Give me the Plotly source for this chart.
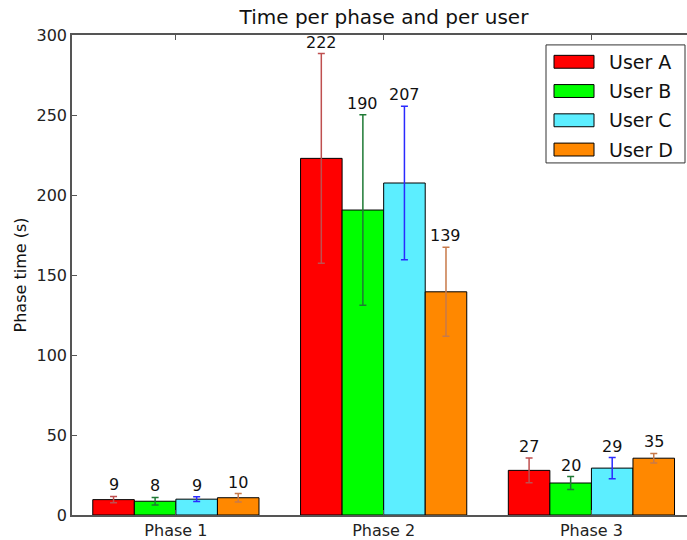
import plotly.graph_objects as go

phases = ["Phase 1", "Phase 2", "Phase 3"]
users = ["User A", "User B", "User C", "User D"]
values = {
    "User A": [9.6, 222.9, 27.9],
    "User B": [8.6, 190.6, 20.0],
    "User C": [9.9, 207.5, 29.3],
    "User D": [10.8, 139.5, 35.5],
}
errors = {
    "User A": [2.0, 65.5, 7.7],
    "User B": [2.4, 59.5, 4.0],
    "User C": [1.5, 48.0, 6.6],
    "User D": [2.6, 27.8, 3.0],
}
bar_colors = {"User A": "#ff0000", "User B": "#00ff00", "User C": "#5ceeff", "User D": "#ff8800"}
err_colors = {"User A": "#bf4f4f", "User B": "#1f7a35", "User C": "#2a2aff", "User D": "#c87a4a"}

FONT = "DejaVu Sans"
W, H = 687, 540
L, R, T, B = 72, 0, 35, 21
PW, PH = W - L - R, H - T - B


def px_x(px):
    return (px - L) / PW


def px_y(py):
    return (H - B - py) / PH


fig = go.Figure()
n = len(users)
for i, u in enumerate(users):
    fig.add_trace(go.Bar(
        x=list(range(len(phases))), y=values[u], name=u,
        marker=dict(color=bar_colors[u], line=dict(color="black", width=1)),
        error_y=dict(type="data", array=errors[u], color=err_colors[u], thickness=1.5, width=3.5),
        offsetgroup=str(i), showlegend=False,
    ))
    for j, v in enumerate(values[u]):
        xoff = (i - (n - 1) / 2) * 0.2
        fig.add_annotation(
            x=j + xoff, y=v + errors[u][j], text=str(int(v)),
            showarrow=False, yanchor="bottom", xanchor="center", yshift=0,
            font=dict(family=FONT, size=16, color="#111"),
        )

# custom legend (wide rectangular swatches like the reference)
shapes = [dict(type="rect", xref="paper", yref="paper",
               x0=px_x(546), x1=px_x(685), y0=px_y(45), y1=px_y(164),
               line=dict(color="#333", width=1), fillcolor="white", layer="above")]
for k, u in enumerate(users):
    cy = 62 + k * 29.5
    shapes.append(dict(type="rect", xref="paper", yref="paper",
                       x0=px_x(554), x1=px_x(594), y0=px_y(cy + 6.5), y1=px_y(cy - 6.5),
                       line=dict(color="black", width=1), fillcolor=bar_colors[u], layer="above"))
    fig.add_annotation(xref="paper", yref="paper", x=px_x(607), y=px_y(cy), text=u,
                       showarrow=False, xanchor="left", yanchor="middle",
                       font=dict(family=FONT, size=19, color="#111"))

fig.update_layout(
    width=W, height=H,
    margin=dict(l=L, r=R, t=T, b=B),
    paper_bgcolor="white", plot_bgcolor="white",
    barmode="group", bargap=0.2, bargroupgap=0,
    font=dict(family=FONT, size=16, color="#222"),
    title=dict(text="Time per phase and per user", x=0.5 * (72 + 696) / 687, xanchor="center",
               y=1 - 17 / 540, yanchor="middle", font=dict(size=20, family=FONT, color="#111")),
    shapes=shapes,
    showlegend=False,
)
fig.update_xaxes(
    range=[-0.5, 2.46], tickvals=list(range(len(phases))), ticktext=phases,
    showline=True, linecolor="#555", linewidth=1.5, mirror="ticks",
    ticks="inside", ticklen=5, tickcolor="#555", showgrid=False, zeroline=False,
    tickfont=dict(size=16, family=FONT, color="#222"),
)
fig.update_yaxes(
    range=[0, 300], tickvals=[0, 50, 100, 150, 200, 250, 300],
    showline=True, linecolor="#555", linewidth=1.5, mirror=False,
    ticks="inside", ticklen=5, tickcolor="#555", showgrid=False, zeroline=False,
    title=dict(text="Phase time (s)", font=dict(size=16, family=FONT, color="#111"), standoff=6),
    tickfont=dict(size=16, family=FONT, color="#222"),
)
fig.write_html("out.html", config={"displayModeBar": False},
               post_script="document.body.style.margin='0px';document.body.style.overflow='hidden';")
